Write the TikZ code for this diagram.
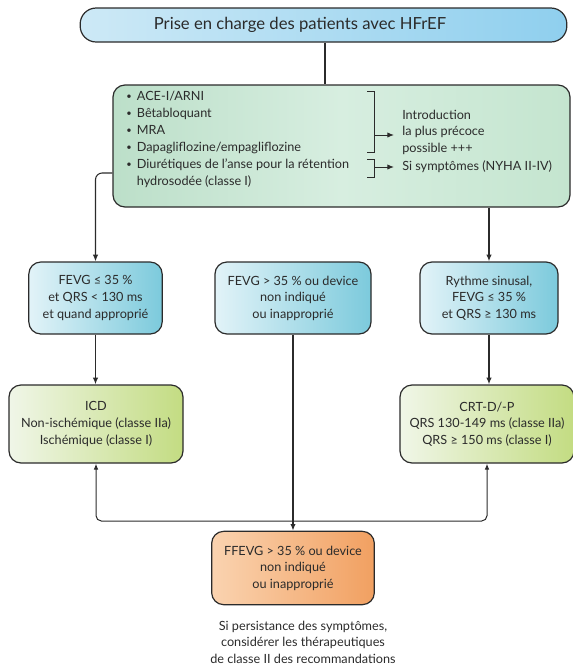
\documentclass[tikz,border=0pt]{standalone}
\usepackage{fontspec}
\setmainfont{Lato}
\usetikzlibrary{arrows.meta,positioning,calc}

\definecolor{ink}{HTML}{2B2B2B}
\definecolor{hdrL}{HTML}{CDE9F6}
\definecolor{hdrR}{HTML}{8FCFEE}
\definecolor{grnL}{HTML}{BCDFC9}
\definecolor{grnM}{HTML}{D7EEE0}
\definecolor{grnR}{HTML}{C4E5CF}
\definecolor{cyaL}{HTML}{E2F3F8}
\definecolor{cyaR}{HTML}{7CCADC}
\definecolor{limL}{HTML}{F0F6E8}
\definecolor{limR}{HTML}{C3DC82}
\definecolor{orgL}{HTML}{FAD3B0}
\definecolor{orgR}{HTML}{F1A061}

\newcommand{\bul}{\makebox[8pt][l]{\raisebox{0.15ex}{\scriptsize\textbullet}}}

\begin{document}
\begin{tikzpicture}[
  x=0.75pt,y=-0.75pt,
  font=\fontsize{9.5}{12.4}\selectfont,text=ink,
  box/.style={draw=ink,line width=0.9pt,rounded corners=9pt,align=center,inner sep=2pt},
  hdr/.style={box,rounded corners=12pt,minimum width=365pt,minimum height=25.5pt,left color=hdrL,right color=hdrR},
  drug/.style={box,minimum width=342.75pt,minimum height=91.5pt,left color=grnL,right color=grnR,middle color=grnM},
  crit/.style={box,minimum height=54pt,left color=cyaL,right color=cyaR},
  dev/.style={box,minimum width=130.5pt,minimum height=58.5pt,left color=limL,right color=limR},
  alt/.style={box,minimum width=122pt,minimum height=55pt,left color=orgL,right color=orgR},
  arr/.style={-{Latex[length=5pt,width=4pt]},line width=1pt,draw=ink},
  loop/.style={{Latex[length=4.5pt,width=3.5pt]}-{Latex[length=4.5pt,width=3.5pt]},line width=0.75pt,draw=ink,rounded corners=4pt}
]
\useasboundingbox (0,0) rectangle (573,669);

\node[hdr] (hdr) at (323.5,25) {};
\node[font=\fontsize{12.5}{14}\selectfont] (title) at (300,25) {Prise en charge des patients avec HFrEF};

\node[drug] (drug) at (341.5,146) {};
\node[anchor=north west,align=left,inner sep=0pt,font=\fontsize{9.5}{12.75}\selectfont] (meds) at (126,91) {%
\bul ACE-I/ARNI\\
\bul Bêtabloquant\\
\bul MRA\\
\bul Dapagliflozine/empagliflozine\\
\bul Diurétiques de l'anse pour la rétention\\
\hspace*{8pt}hydrosodée (classe I)};
\node[anchor=west,align=left,inner sep=0pt] (intro) at (402,132) {Introduction\\la plus précoce\\possible +++};
\node[anchor=west,align=left,inner sep=0pt] (symp) at (402,167) {Si symptômes (NYHA II-IV)};

% brackets
\draw[line width=0.6pt,ink] (367,91) -- (374,91) -- (374,152) -- (367,152);
\draw[line width=0.6pt,ink] (367,159) -- (374,159) -- (374,177) -- (367,177);
\coordinate (br1) at (374,135);
\coordinate (br2) at (374,167);
\draw[arr,line width=0.7pt] (br1) -- ([xshift=-6pt]intro.west |- br1);
\draw[arr,line width=0.7pt] (br2) -- ([xshift=-6pt]symp.west |- br2);

\node[crit,minimum width=100pt] (crit1) at (95.5,298) {FEVG ≤ 35 \%\\et QRS < 130 ms\\et quand approprié};
\node[crit,minimum width=117pt] (crit2) at (293,298) {FEVG > 35 \% ou device\\non indiqué\\ou inapproprié};
\node[crit,minimum width=103.5pt] (crit3) at (489,298) {Rythme sinusal,\\FEVG ≤ 35 \%\\et QRS ≥ 130 ms};

\node[dev] (icd) at (96,424) {ICD\\Non-ischémique (classe IIa)\\Ischémique (classe I)};
\node[dev] (crt) at (487,424) {CRT-D/-P\\QRS 130-149 ms (classe IIa)\\QRS ≥ 150 ms (classe I)};

\node[alt] (alt) at (293,568) {FFEVG > 35 \% ou device\\non indiqué\\ou inapproprié};
\node[align=center] (note) at (303,642) {Si persistance des symptômes,\\considérer les thérapeutiques\\de classe II des recommandations};

\coordinate (join) at (293,521);

\draw[line width=1pt,ink] (hdr.south -| 325,0) -- (drug.north -| 325,0);
\draw[arr,line width=0.8pt,rounded corners=5pt] ([yshift=-20.25pt]drug.west) -| (crit1.north);
\draw[arr] (drug.south -| crit3.north) -- (crit3.north);
\draw[arr] (crit1.south) -- (crit1.south |- icd.north);
\draw[arr] (crit3.south) -- (crit3.south |- crt.north);
\draw[loop] (icd.south) |- (join) -| (crt.south);
\draw[arr] (crit2.south) -- (alt.north);
\end{tikzpicture}
\end{document}
